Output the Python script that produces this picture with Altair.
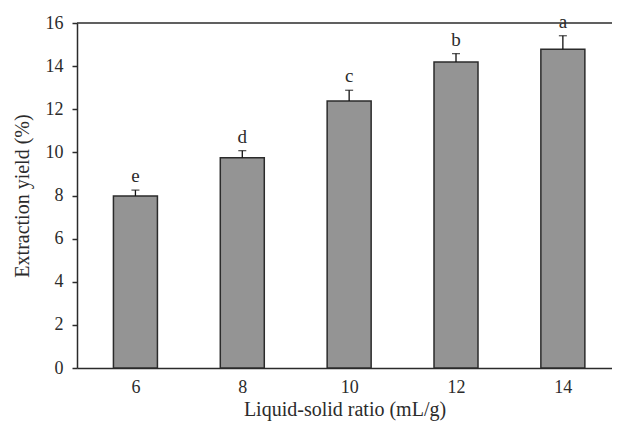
import altair as alt
import pandas as pd

ratio = [6, 8, 10, 12, 14]
yield_pct = [7.98, 9.75, 12.38, 14.19, 14.78]
err = [0.27, 0.33, 0.50, 0.39, 0.63]
letters = ["e", "d", "c", "b", "a"]

df = pd.DataFrame({"ratio": ratio, "y": yield_pct, "err": err, "letter": letters})
df["top"] = df["y"] + df["err"]

FONT = "Liberation Serif"
INK = "#2b2b2b"

xscale = alt.Scale(domain=[5, 14.826], nice=False, zero=False)
yscale = alt.Scale(domain=[0, 16], nice=False)

x_enc = alt.X(
    "ratio:Q",
    scale=xscale,
    axis=alt.Axis(
        values=ratio,
        title="Liquid-solid ratio (mL/g)",
        ticks=False,
        tickSize=0,
        grid=False,
        labelPadding=10,
        titlePadding=3,
    ),
)
y_enc = alt.Y(
    "y:Q",
    scale=yscale,
    axis=alt.Axis(
        values=list(range(0, 17, 2)),
        title="Extraction yield (%)",
        tickSize=5,
        grid=False,
        labelPadding=9,
        titlePadding=13,
    ),
)

base = alt.Chart(df)

bars = base.mark_bar(size=44, fill="#949494", stroke=INK, strokeWidth=1.5).encode(
    x=x_enc, y=y_enc
)

rule = base.mark_rule(color="#111", strokeWidth=1.3).encode(
    x="ratio:Q", y="y:Q", y2="top:Q"
)

cap = base.mark_tick(orient="horizontal", size=8, thickness=1.3, color="#111").encode(
    x="ratio:Q", y="top:Q"
)

labels = base.mark_text(
    baseline="bottom", dy=-4, fontSize=19, font=FONT, color=INK
).encode(x="ratio:Q", y="top:Q", text="letter:N")

topline = alt.Chart(pd.DataFrame({"v": [16]})).mark_rule(color=INK, strokeWidth=1.5).encode(
    y="v:Q"
)

chart = (
    alt.layer(bars, rule, cap, labels, topline)
    .properties(
        width=535,
        height=345,
        autosize=alt.AutoSizeParams(type="none"),
        padding={"left": 69, "top": 15, "right": 0, "bottom": 55},
    )
    .configure_view(stroke=None)
    .configure_axis(
        domainColor=INK,
        domainWidth=1.5,
        tickColor=INK,
        tickWidth=1.5,
        labelFont=FONT,
        titleFont=FONT,
        labelFontSize=18,
        titleFontSize=20,
        labelColor=INK,
        titleColor=INK,
        titleFontWeight="normal",
    )
)

chart.save("out.html", embed_options={"renderer": "svg", "actions": False})
